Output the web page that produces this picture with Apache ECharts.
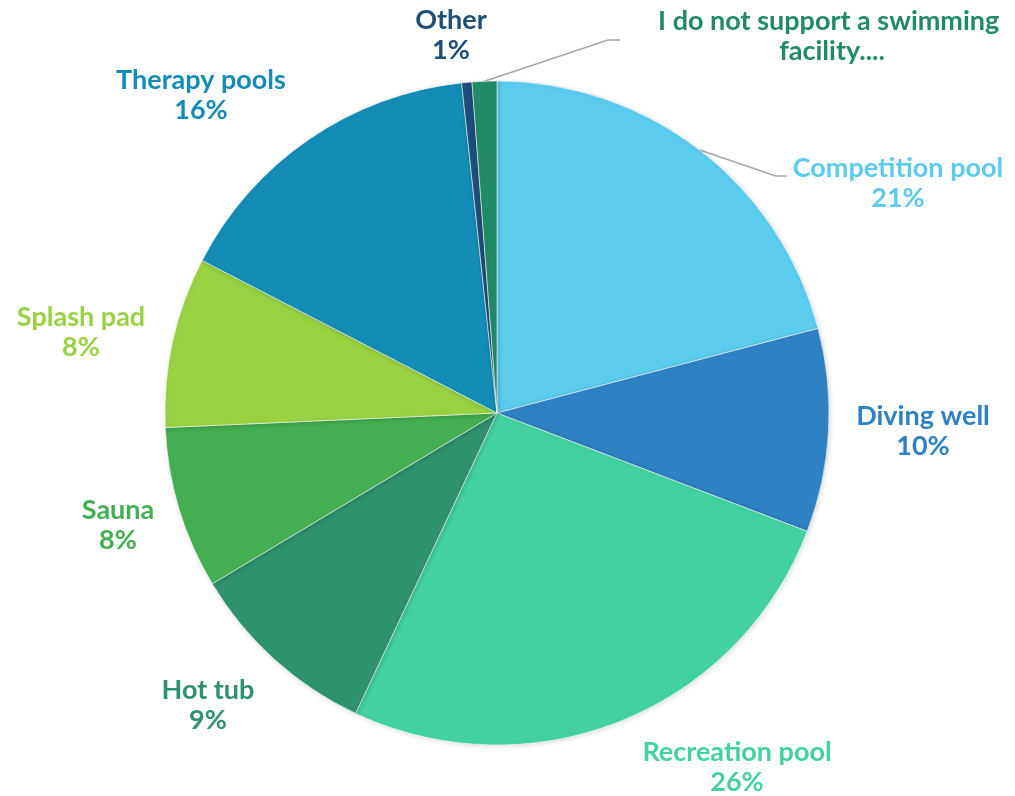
<!DOCTYPE html>
<html>
<head>
<meta charset="utf-8">
<script src="https://cdn.jsdelivr.net/npm/echarts@6/dist/echarts.min.js"></script>
<style>
html,body{margin:0;padding:0;background:#ffffff;}
#chart{width:1015px;height:796px;}
</style>
</head>
<body>
<div id="chart"></div>
<script>
// ---- data ----
const categories = ['Competition pool', 'Diving well', 'Recreation pool', 'Hot tub', 'Sauna', 'Splash pad', 'Therapy pools', 'Other', 'I do not support a swimming facility....'];
const shares = [20.9, 9.9, 26.2, 9.4, 7.9, 8.3, 15.7, 0.5, 1.2];
const showPercent = [true, true, true, true, true, true, true, true, false];

// ---- styling / placement ----
const colors = ['#5BCBEE', '#2E82C4', '#43D1A1', '#2E936D', '#43AF52', '#98D243', '#138CB6', '#1F4E79', '#218A67'];
const labelCenters = [[898, 183], [923, 431], [737, 767], [208, 705], [118, 525], [81, 332], [201, 95], [451, 35], [832, 36]];
const leaderSpec = { 0: { gap: 6, dy: 23, run: 11 }, 8: { gap: 12, dy: 34, run: 12 } };

const chart = echarts.init(document.getElementById('chart'), null, { renderer: 'canvas' });

const data = categories.map((name, i) => ({
  name: name,
  value: shares[i],
  itemStyle: { color: colors[i] },
  label: Object.assign({ color: colors[i] }, i === 8 ? { width: 400, overflow: 'break' } : {}),
  labelLine: { show: !!leaderSpec[i] }
}));

chart.setOption({
  animation: false,
  backgroundColor: '#ffffff',
  series: [{
    type: 'pie',
    center: [497, 413],
    radius: 332,
    startAngle: 90,
    clockwise: true,
    avoidLabelOverlap: false,
    itemStyle: {
      borderColor: 'rgba(255,255,255,0.7)',
      borderWidth: 0.8,
      shadowBlur: 5,
      shadowColor: 'rgba(0,0,0,0.15)',
      shadowOffsetX: 1,
      shadowOffsetY: 1
    },
    label: {
      show: true,
      position: 'outside',
      fontFamily: 'Lato',
      fontWeight: 'bold',
      fontSize: 27,
      lineHeight: 30,
      formatter: function (p) {
        return showPercent[p.dataIndex] ? p.name + '\n' + Math.round(p.percent) + '%' : p.name;
      }
    },
    labelLine: {
      show: false,
      length: 20,
      length2: 10,
      lineStyle: { color: '#A6A6A6', width: 1.5 }
    },
    labelLayout: function (p) {
      const i = p.dataIndex;
      const c = labelCenters[i];
      const out = { x: c[0], y: c[1], align: 'center', verticalAlign: 'middle' };
      const spec = leaderSpec[i];
      if (spec && p.labelLinePoints) {
        const w = p.labelRect.width, h = p.labelRect.height;
        const left = c[0] - w / 2, top = c[1] - h / 2;
        const end = [left - spec.gap, top + spec.dy];
        out.labelLinePoints = [p.labelLinePoints[0], [end[0] - spec.run, end[1]], end];
      }
      return out;
    },
    data: data
  }]
});
</script>
</body>
</html>
